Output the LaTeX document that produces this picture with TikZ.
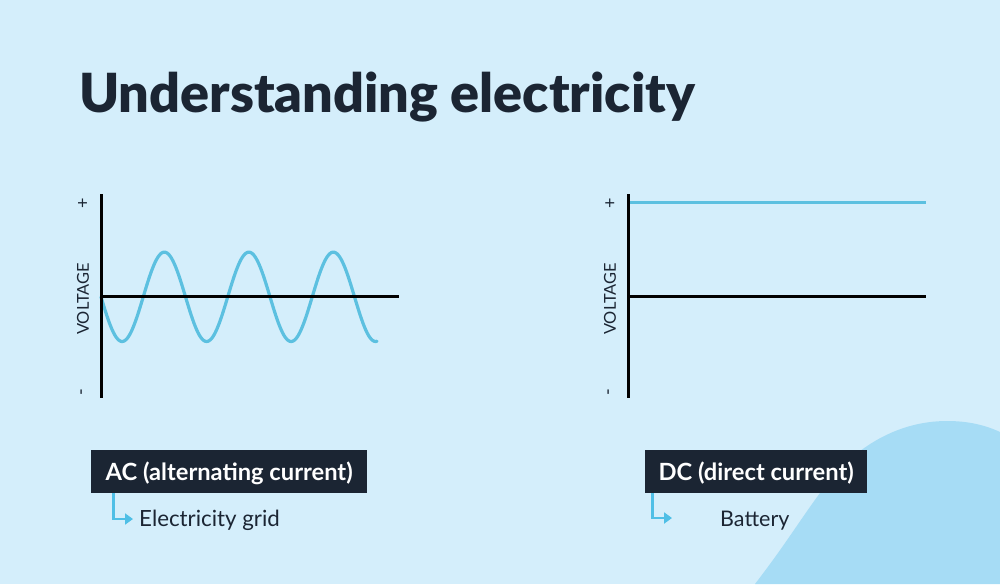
\documentclass[tikz,border=0pt]{standalone}
\usepackage{fontspec}
\setmainfont{Lato}
\newfontfamily\titlefont{Lato Black}
\usetikzlibrary{arrows.meta}
\definecolor{bgc}{HTML}{D4EEFB}
\definecolor{blobc}{HTML}{A6DCF5}
\definecolor{inkc}{HTML}{1B2533}
\definecolor{wavec}{HTML}{5CC0E0}
\definecolor{arrc}{HTML}{4FBFE6}
\tikzset{
  axisline/.style={draw=black,line width=3pt},
  waveline/.style={draw=wavec,line width=3.2pt,line cap=round},
  tagbox/.style={fill=inkc,text=white,font=\fontsize{23.7}{27}\selectfont\bfseries,anchor=north west,inner sep=0pt,minimum height=43pt,text height=23pt,text depth=5pt},
  sublabel/.style={text=inkc,font=\fontsize{22.3}{26}\selectfont,inner sep=0pt},
  battlabel/.style={text=inkc,font=\fontsize{21.5}{26}\selectfont,inner sep=0pt},
  axislabel/.style={text=inkc,font=\fontsize{16.4}{19}\selectfont,inner sep=0pt,rotate=90},
  signlabel/.style={text=inkc,font=\fontsize{18}{20}\selectfont,inner sep=0pt,rotate=90},
  elbow/.style={draw=arrc,line width=2.2pt,-{Triangle[length=8pt,width=11pt]}},
}
\begin{document}
\begin{tikzpicture}[x=1pt,y=-1pt]
\useasboundingbox (0,0) rectangle (1000,584);
\fill[bgc] (0,0) rectangle (1000,584);
\fill[blobc] (755,584) .. controls (785,545) and (800,520) .. (820,493)
  .. controls (850,450) and (895,421) .. (947,421)
  .. controls (968,421) and (985,425) .. (1000,432) -- (1000,584) -- cycle;
\node[text=inkc,font=\titlefont\fontsize{53.9}{58}\selectfont,anchor=base west,inner sep=0pt] (title) at (79,112) {Understanding electricity};
% AC chart
\draw[waveline,domain=0:276,samples=200,smooth] plot ({101+\x},{296.8+44.7*sin(4.2604*\x)});
\draw[axisline] (101,194) -- (101,398);
\draw[axisline] (101,296) -- (399,296);
\node[signlabel] (plusa) at (83.5,203) {+};
\node[axislabel] (volta) at (83,299) {VOLTAGE};
\node[signlabel] (minusa) at (83.5,392) {-};
% DC chart
\draw[waveline,line cap=butt] (628,202.5) -- (926,202.5);
\draw[axisline] (628,194) -- (628,398);
\draw[axisline] (628,296) -- (926,296);
\node[signlabel] (plusd) at (610.5,203) {+};
\node[axislabel] (voltd) at (610,299) {VOLTAGE};
\node[signlabel] (minusd) at (610.5,392) {-};
% Tags
\node[tagbox,minimum width=276pt] (acbox) at (91,450) {AC (alternating current)};
\node[tagbox,minimum width=222pt] (dcbox) at (645,450) {DC (direct current)};
\node[sublabel,anchor=base west] (grid) at (139,526.5) {Electricity grid};
\node[battlabel,anchor=base west] (batt) at (720,526.5) {Battery};
\coordinate (actop) at (113.5,493);
\coordinate (acend) at (133,519);
\coordinate (dctop) at (652.5,493);
\coordinate (dcend) at (672,518);
\draw[elbow] (actop) |- (acend);
\draw[elbow] (dctop) |- (dcend);
\end{tikzpicture}
\end{document}
